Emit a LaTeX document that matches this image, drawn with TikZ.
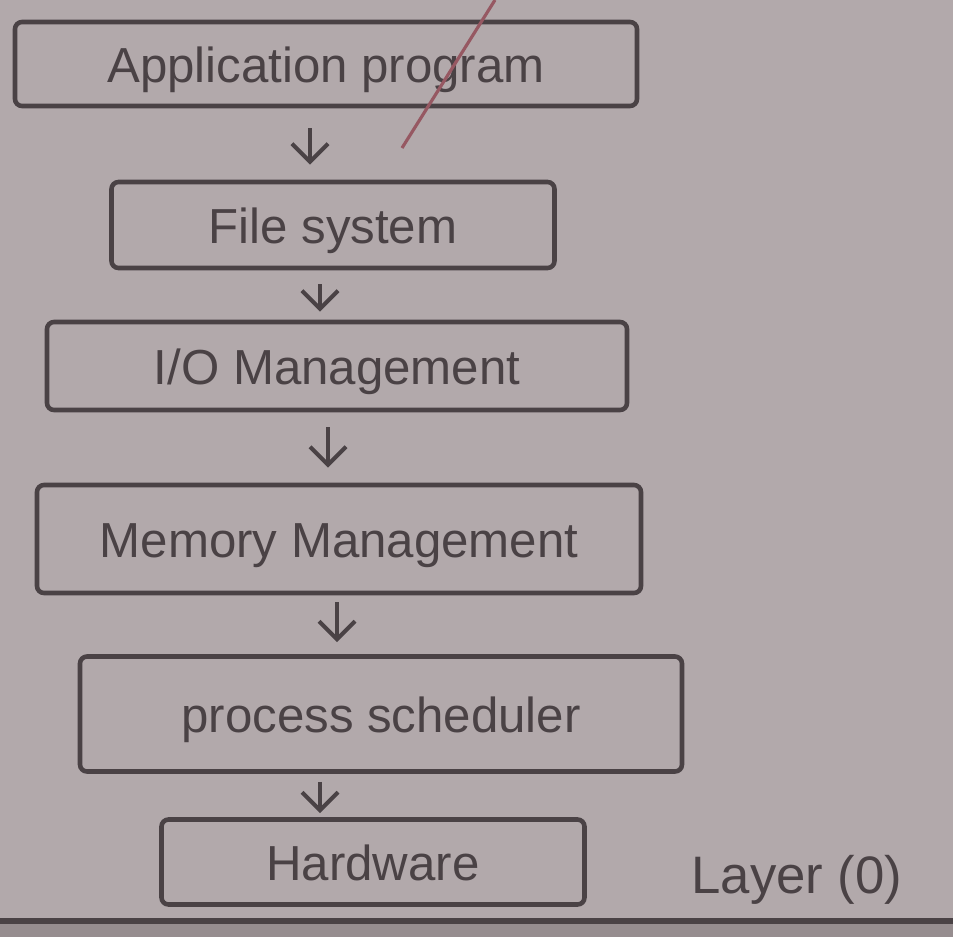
\documentclass[tikz,border=0pt]{standalone}
\usepackage{fontspec}
\setmainfont{Liberation Sans}
\usetikzlibrary{arrows.meta,calc}
\definecolor{paper}{RGB}{178,169,171}
\definecolor{paperdark}{RGB}{150,141,143}
\definecolor{ink}{RGB}{74,66,69}
\definecolor{redink}{RGB}{150,88,98}
\tikzset{
  layerbox/.style={draw=ink, line width=1.3pt, rounded corners=2pt, inner sep=0pt,
    text=ink, font=\fontsize{14}{16}\selectfont, text height=2.3ex, text depth=0.3ex},
  downarrow/.style={draw=ink, line width=1.2pt,
    -{Straight Barb[length=0.18cm, width=0.36cm, line width=1.2pt]}},
  note/.style={text=ink, font=\fontsize{15}{17}\selectfont}
}
\begin{document}
\begin{tikzpicture}
% paper
\fill[paper] (0,0) rectangle (9.53,9.37);
\useasboundingbox (0,0) rectangle (9.53,9.37);
\fill[paperdark] (0,0) rectangle (9.53,0.15);
\draw[ink, line width=1.6pt] (0,0.16) -- (9.53,0.16);

% layers, top to bottom
\node[layerbox, minimum width=6.22cm, minimum height=0.84cm] (app) at (3.26,8.73) {Application program};
\node[layerbox, minimum width=4.43cm, minimum height=0.86cm] (fs)  at (3.33,7.12) {File system};
\node[layerbox, minimum width=5.80cm, minimum height=0.88cm] (io)  at (3.37,5.71) {I/O Management};
\node[layerbox, minimum width=6.04cm, minimum height=1.08cm] (mem) at (3.39,3.98) {Memory Management};
\node[layerbox, minimum width=6.02cm, minimum height=1.15cm] (ps)  at (3.81,2.23) {process scheduler};
\node[layerbox, minimum width=4.23cm, minimum height=0.85cm] (hw)  at (3.73,0.75) {Hardware};

\node[note] (lay) at (7.97,0.57) {Layer (0)};

% arrows between layers
\coordinate (s1) at ($(app.south)+(-0.16,-0.20)$);
\coordinate (s2) at ($(fs.south)+(-0.13,-0.14)$);
\coordinate (s3) at ($(io.south)+(-0.09,-0.15)$);
\coordinate (s4) at ($(mem.south)+(-0.02,-0.07)$);
\coordinate (s5) at ($(ps.south)+(-0.61,-0.08)$);
\draw[downarrow, shorten >=0.15cm] (s1) -- (s1 |- fs.north);
\draw[downarrow, shorten >=0.08cm] (s2) -- (s2 |- io.north);
\draw[downarrow, shorten >=0.15cm] (s3) -- (s3 |- mem.north);
\draw[downarrow, shorten >=0.12cm] (s4) -- (s4 |- ps.north);
\draw[downarrow, shorten >=0.04cm] (s5) -- (s5 |- hw.north);

% pen stroke across the top box
\draw[redink, line width=0.9pt] (4.95,9.37) -- (4.02,7.89);
\end{tikzpicture}
\end{document}
